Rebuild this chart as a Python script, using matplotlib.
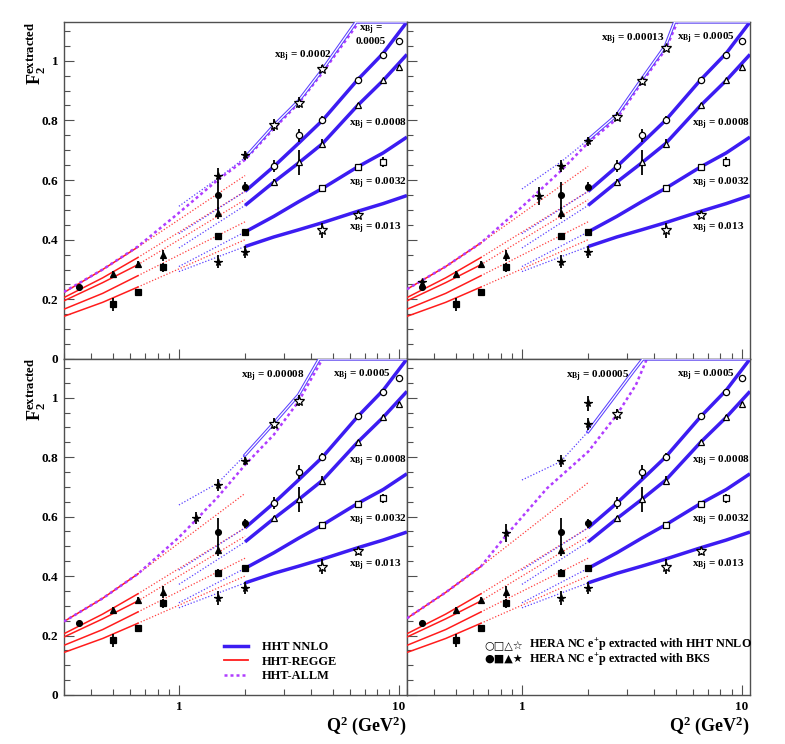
import numpy as np
import matplotlib.pyplot as plt
from matplotlib.lines import Line2D
from matplotlib.ticker import NullFormatter

plt.rcParams['font.family'] = ['Liberation Serif', 'DejaVu Sans']
plt.rcParams['font.weight'] = 'bold'
plt.rcParams['mathtext.fontset'] = 'custom'
plt.rcParams['mathtext.rm'] = 'Liberation Serif:bold'
plt.rcParams['mathtext.bf'] = 'Liberation Serif:bold'
plt.rcParams['mathtext.it'] = 'Liberation Serif:bold'

# ---- curves common to all four panels (x_Bj = 0.0005, 0.0008, 0.0032, 0.013)
q2_nnlo = [2.0, 2.7, 3.5, 4.5, 6.5, 8.5, 10.9]
nnlo_0005 = [0.562, 0.645, 0.723, 0.800, 0.936, 1.025, 1.13]
nnlo_0008 = [0.515, 0.593, 0.657, 0.722, 0.850, 0.934, 1.021]
nnlo_0032 = [0.426, 0.478, 0.527, 0.572, 0.644, 0.691, 0.744]
nnlo_013 = [0.377, 0.409, 0.433, 0.457, 0.495, 0.521, 0.548]

q2_ext = [1.0, 2.0]
ext_0005 = [0.42, 0.562]
ext_0008 = [0.372, 0.515]
ext_0032 = [0.31, 0.426]
ext_013 = [0.293, 0.377]

q2_regge = [0.3, 0.45, 0.65]
regge_0005 = [0.206, 0.272, 0.340]
regge_0008 = [0.195, 0.256, 0.316]
regge_0032 = [0.167, 0.220, 0.279]
regge_013 = [0.143, 0.190, 0.241]

q2_regge_ext = [0.65, 2.0]
regge_ext_0005 = [0.340, 0.562]
regge_ext_0008 = [0.316, 0.534]
regge_ext_0032 = [0.279, 0.460]
regge_ext_013 = [0.241, 0.400]

# ---- common measurements
bks_circ_q2 = [0.35, 1.5, 2.0]
bks_circ = [0.241, 0.549, 0.578]
bks_circ_err = [0.006, 0.045, 0.015]
bks_tri_q2 = [0.5, 0.65, 0.85, 1.5]
bks_tri = [0.286, 0.318, 0.347, 0.489]
bks_tri_err = [0.01, 0.01, 0.02, 0.02]
bks_sq_q2 = [0.5, 0.65, 0.85, 1.5, 2.0]
bks_sq = [0.184, 0.224, 0.308, 0.411, 0.426]
bks_sq_err = [0.022, 0.012, 0.015, 0.012, 0.008]
bks_star_q2 = [1.5, 2.0]
bks_star = [0.326, 0.359]
bks_star_err = [0.022, 0.02]

hht_circ_q2 = [2.7, 3.5, 4.5, 6.5, 8.5, 10.0]
hht_circ = [0.646, 0.750, 0.801, 0.937, 1.020, 1.066]
hht_circ_err = [0.02, 0.022, 0.012, 0.008, 0.006, 0.006]
hht_tri_q2 = [2.7, 3.5, 4.5, 6.5, 8.5, 10.0]
hht_tri = [0.594, 0.659, 0.721, 0.850, 0.934, 0.980]
hht_tri_err = [0.008, 0.042, 0.015, 0.008, 0.006, 0.006]
hht_sq_q2 = [4.5, 6.5, 8.5]
hht_sq = [0.572, 0.643, 0.661]
hht_sq_err = [0.006, 0.006, 0.016]
hht_star_q2 = [4.5, 6.5]
hht_star = [0.431, 0.484]
hht_star_err = [0.025, 0.012]

# ---- lowest-x curve, one per panel (TL, TR, BL, BR)
lowx_labels = ['0.0002', '0.00013', '0.00008', '0.00005']

regge_tl = [0.223, 0.300, 0.375]
regge_tr = [0.234, 0.310, 0.389]
regge_bl = [0.247, 0.325, 0.407]
regge_br = [0.258, 0.345, 0.432]
regge_ext_tl = [0.375, 0.615]
regge_ext_tr = [0.389, 0.646]
regge_ext_bl = [0.407, 0.678]
regge_ext_br = [0.432, 0.714]

allm_q2_tl = [0.3, 0.45, 0.65, 1.0, 1.5, 2.0, 2.7, 3.5, 4.5, 6.6]
allm_tl = [0.225, 0.300, 0.377, 0.490, 0.600, 0.668, 0.772, 0.857, 0.960, 1.13]
allm_q2_tr = [0.3, 0.45, 0.65, 1.0, 1.5, 2.0, 2.7, 3.5, 4.5, 5.1]
allm_tr = [0.234, 0.310, 0.389, 0.510, 0.630, 0.725, 0.805, 0.926, 1.038, 1.13]
allm_q2_bl = [0.3, 0.45, 0.65, 1.0, 1.2, 1.5, 2.0, 2.7, 3.5, 4.5]
allm_bl = [0.247, 0.325, 0.407, 0.530, 0.590, 0.665, 0.774, 0.875, 0.987, 1.13]
allm_q2_br = [0.3, 0.45, 0.65, 0.85, 1.3, 2.0, 2.7, 3.3, 3.7]
allm_br = [0.258, 0.345, 0.432, 0.538, 0.695, 0.818, 0.942, 1.043, 1.13]

q2_lowx_ext = [1.0, 1.5, 2.0]
lowx_ext_tl = [0.512, 0.605, 0.675]
lowx_ext_tr = [0.570, 0.660, 0.735]
lowx_ext_bl = [0.639, 0.712, 0.807]
lowx_ext_br = [0.723, 0.785, 0.886]

band_q2_tl = [2.0, 2.7, 3.5, 4.5, 6.4, 10.9]
band_tl = [0.675, 0.782, 0.865, 0.970, 1.13, 1.13]
band_q2_tr = [2.0, 2.7, 3.5, 4.5, 4.95, 10.9]
band_tr = [0.735, 0.818, 0.937, 1.050, 1.13, 1.13]
band_q2_bl = [2.0, 2.7, 3.5, 4.35, 10.9]
band_bl = [0.807, 0.914, 1.009, 1.13, 1.13]
band_q2_br = [2.0, 2.6, 3.2, 3.55, 10.9]
band_br = [0.886, 0.998, 1.087, 1.13, 1.13]

lowx_bks_q2_tl = [1.5, 2.0]
lowx_bks_tl = [0.615, 0.683]
lowx_bks_err_tl = [0.025, 0.015]
lowx_bks_q2_tr = [0.35, 1.2, 1.5, 2.0]
lowx_bks_tr = [0.258, 0.547, 0.648, 0.730]
lowx_bks_err_tr = [0.006, 0.03, 0.02, 0.015]
lowx_bks_q2_bl = [1.2, 1.5, 2.0]
lowx_bks_bl = [0.596, 0.706, 0.787]
lowx_bks_err_bl = [0.02, 0.02, 0.015]
lowx_bks_q2_br = [0.85, 1.5, 2.0, 2.0]
lowx_bks_br = [0.545, 0.787, 0.911, 0.981]
lowx_bks_err_br = [0.03, 0.02, 0.02, 0.025]

lowx_hht_q2_tl = [2.7, 3.5, 4.5]
lowx_hht_tl = [0.784, 0.859, 0.973]
lowx_hht_err_tl = [0.02, 0.018, 0.012]
lowx_hht_q2_tr = [2.7, 3.5, 4.5]
lowx_hht_tr = [0.812, 0.931, 1.044]
lowx_hht_err_tr = [0.015, 0.012, 0.008]
lowx_hht_q2_bl = [2.7, 3.5]
lowx_hht_bl = [0.912, 0.990]
lowx_hht_err_bl = [0.018, 0.018]
lowx_hht_q2_br = [2.7]
lowx_hht_br = [0.944]
lowx_hht_err_br = [0.018]

NNLO = '#3c1cf2'
NNLO_THIN = '#5a40ff'
REGGE = '#ff1c1c'
ALLM = '#b03cff'
FRAME = '#505050'

panels = [
    dict(rect=[0.0815, 0.5175, 0.4369, 0.4530], regge=regge_tl, regge_ext=regge_ext_tl,
         allm_q2=allm_q2_tl, allm=allm_tl, ext=lowx_ext_tl, band_q2=band_q2_tl, band=band_tl,
         bks_q2=lowx_bks_q2_tl, bks=lowx_bks_tl, bks_err=lowx_bks_err_tl,
         hht_q2=lowx_hht_q2_tl, hht=lowx_hht_tl, hht_err=lowx_hht_err_tl,
         lab=lowx_labels[0], lab_xy=(2.72, 1.014), left=True, bottom=False),
    dict(rect=[0.5185, 0.5175, 0.4369, 0.4530], regge=regge_tr, regge_ext=regge_ext_tr,
         allm_q2=allm_q2_tr, allm=allm_tr, ext=lowx_ext_tr, band_q2=band_q2_tr, band=band_tr,
         bks_q2=lowx_bks_q2_tr, bks=lowx_bks_tr, bks_err=lowx_bks_err_tr,
         hht_q2=lowx_hht_q2_tr, hht=lowx_hht_tr, hht_err=lowx_hht_err_tr,
         lab=lowx_labels[1], lab_xy=(2.3, 1.072), left=False, bottom=False),
    dict(rect=[0.0815, 0.0659, 0.4369, 0.4516], regge=regge_bl, regge_ext=regge_ext_bl,
         allm_q2=allm_q2_bl, allm=allm_bl, ext=lowx_ext_bl, band_q2=band_q2_bl, band=band_bl,
         bks_q2=lowx_bks_q2_bl, bks=lowx_bks_bl, bks_err=lowx_bks_err_bl,
         hht_q2=lowx_hht_q2_bl, hht=lowx_hht_bl, hht_err=lowx_hht_err_bl,
         lab=lowx_labels[2], lab_xy=(1.91, 1.07), left=True, bottom=True),
    dict(rect=[0.5185, 0.0659, 0.4369, 0.4516], regge=regge_br, regge_ext=regge_ext_br,
         allm_q2=allm_q2_br, allm=allm_br, ext=lowx_ext_br, band_q2=band_q2_br, band=band_br,
         bks_q2=lowx_bks_q2_br, bks=lowx_bks_br, bks_err=lowx_bks_err_br,
         hht_q2=lowx_hht_q2_br, hht=lowx_hht_br, hht_err=lowx_hht_err_br,
         lab=lowx_labels[3], lab_xy=(1.59, 1.07), left=False, bottom=True),
]

nnlo_common = [nnlo_0005, nnlo_0008, nnlo_0032, nnlo_013]
ext_common = [ext_0005, ext_0008, ext_0032, ext_013]
regge_common = [regge_0005, regge_0008, regge_0032, regge_013]
regge_ext_common = [regge_ext_0005, regge_ext_0008, regge_ext_0032, regge_ext_013]

fig = plt.figure(figsize=(7.85, 7.44), dpi=100)


def points(ax, q2, f, err, marker, ms, filled):
    ax.errorbar(q2, f, yerr=err, fmt=marker, ms=ms, mfc='black' if filled else 'white',
                mec='black', mew=0.9, ecolor='black', elinewidth=1.3, capsize=0, zorder=6)


for i, p in enumerate(panels):
    ax = fig.add_axes(p['rect'])
    ax.set_xscale('log')

    # REGGE: solid below 0.65 GeV^2, dotted continuation up to 2 GeV^2
    for f in regge_common + [p['regge']]:
        ax.plot(q2_regge, f, color=REGGE, lw=1.1, zorder=3)
    for f in regge_ext_common + [p['regge_ext']]:
        ax.plot(q2_regge_ext, f, color=REGGE, lw=0.9, ls=(0, (1, 1.5)), alpha=0.85, zorder=2)

    # ALLM for the lowest x
    ax.plot(p['allm_q2'], p['allm'], color=ALLM, lw=1.8, ls=(0, (1.2, 1.2)), zorder=3)

    # HHT NNLO: thick above 2 GeV^2, dotted 1-2 GeV^2
    for f in nnlo_common:
        ax.plot(q2_nnlo, f, color=NNLO, lw=2.5, solid_capstyle='butt', zorder=4)
    for f in ext_common:
        ax.plot(q2_ext, f, color=NNLO_THIN, lw=0.9, ls=(0, (1, 1.5)), zorder=2)
    ax.plot(q2_lowx_ext, p['ext'], color=NNLO_THIN, lw=0.9, ls=(0, (1, 1.5)), zorder=2)
    ax.plot(p['band_q2'], p['band'], color=NNLO_THIN, lw=2.4, zorder=4)
    ax.plot(p['band_q2'], p['band'], color='white', lw=0.9, zorder=4)

    # data
    points(ax, bks_circ_q2, bks_circ, bks_circ_err, 'o', 4.2, True)
    points(ax, bks_tri_q2, bks_tri, bks_tri_err, '^', 4.5, True)
    points(ax, bks_sq_q2, bks_sq, bks_sq_err, 's', 4.2, True)
    points(ax, bks_star_q2, bks_star, bks_star_err, '*', 5.5, True)
    points(ax, p['bks_q2'], p['bks'], p['bks_err'], '*', 5.5, True)
    points(ax, hht_circ_q2, hht_circ, hht_circ_err, 'o', 4.5, False)
    points(ax, hht_tri_q2, hht_tri, hht_tri_err, '^', 5.0, False)
    points(ax, hht_sq_q2, hht_sq, hht_sq_err, 's', 4.5, False)
    points(ax, hht_star_q2, hht_star, hht_star_err, '*', 7, False)
    points(ax, p['hht_q2'], p['hht'], p['hht_err'], '*', 7, False)

    # x_Bj labels
    lab = r'$\mathbf{x}_{\mathbf{Bj}}$ = '
    ax.text(p['lab_xy'][0], p['lab_xy'][1], lab + p['lab'], fontsize=8, va='center', ha='left')
    if i == 0:
        ax.text(7.45, 1.085, lab.rstrip() + '\n0.0005', fontsize=8, va='center', ha='center',
                linespacing=1.0)
    else:
        ax.text(5.05, 1.073, lab + '0.0005', fontsize=8, va='center', ha='left')
    ax.text(5.95, 0.786, lab + '0.0008', fontsize=8, va='center', ha='left')
    ax.text(5.95, 0.587, lab + '0.0032', fontsize=8, va='center', ha='left')
    ax.text(5.95, 0.436, lab + '0.013', fontsize=8, va='center', ha='left')

    ax.set_xlim(0.3, 10.9)
    ax.set_ylim(0, 1.13)
    ax.set_xticks([1, 10])
    ax.set_xticks([0.3, 0.4, 0.5, 0.6, 0.7, 0.8, 0.9, 2, 3, 4, 5, 6, 7, 8, 9], minor=True)
    ax.xaxis.set_minor_formatter(NullFormatter())
    ax.set_yticks(np.arange(0, 1.01, 0.2))
    ax.set_yticks(np.arange(0, 1.13, 0.05), minor=True)
    if p['bottom']:
        ax.set_xticklabels(['1', '10'])
    else:
        ax.set_xticklabels([])
    if p['left']:
        ax.set_yticklabels(['0', '0.2', '0.4', '0.6', '0.8', '1'])
    else:
        ax.set_yticklabels([])
    ax.tick_params(which='both', direction='in', top=False, right=False, color=FRAME,
                   labelsize=9.5, width=0.8)
    ax.tick_params(which='major', length=7, pad=4)
    ax.tick_params(which='minor', length=4)
    for s in ax.spines.values():
        s.set_color(FRAME)
        s.set_linewidth(1.0)

    if i == 2:
        handles = [Line2D([], [], color=NNLO, lw=2.5),
                   Line2D([], [], color=REGGE, lw=1.3),
                   Line2D([], [], color=ALLM, lw=1.8, ls=(0, (1.2, 1.2)))]
        ax.legend(handles, ['HHT NNLO', 'HHT-REGGE', 'HHT-ALLM'], loc='upper left',
                  bbox_to_anchor=(0.45, 0.178), frameon=False, fontsize=8.9, borderpad=0,
                  handlelength=1.9, handletextpad=1.1, labelspacing=0.2)
    if i == 3:
        ax.text(0.225, 0.149, '○□△☆', transform=ax.transAxes, family='DejaVu Sans',
                fontsize=8, va='center', ha='left')
        ax.text(0.225, 0.104, '●■▲★', transform=ax.transAxes, family='DejaVu Sans',
                fontsize=8, va='center', ha='left')
        ax.text(0.356, 0.149, r'HERA NC e$^{\mathbf{+}}$p extracted with HHT NNLO',
                transform=ax.transAxes, fontsize=8.7, va='center', ha='left')
        ax.text(0.356, 0.104, r'HERA NC e$^{\mathbf{+}}$p extracted with BKS',
                transform=ax.transAxes, fontsize=8.7, va='center', ha='left')

# axis titles
ylab = r'$\mathbf{F}_{\mathbf{2}}^{\mathbf{extracted}}$'
fig.text(0.045, 0.929, ylab, rotation=90, fontsize=13, ha='center', va='center')
fig.text(0.045, 0.477, ylab, rotation=90, fontsize=13, ha='center', va='center')
xlab = r'$\mathbf{Q^{2}}$ (GeV$^{\mathbf{2}}$)'
fig.text(407 / 785, 0.024, xlab, fontsize=13, ha='right', va='center')
fig.text(750 / 785, 0.024, xlab, fontsize=13, ha='right', va='center')

fig.savefig('out.png', dpi=100)
